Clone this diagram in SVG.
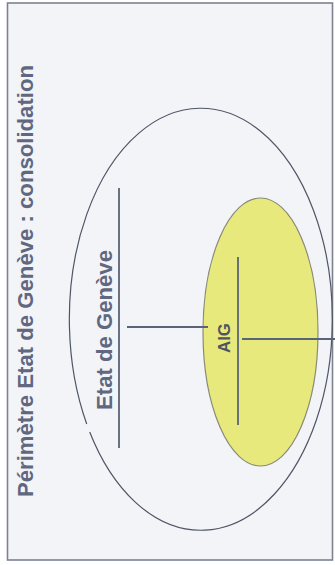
<svg xmlns="http://www.w3.org/2000/svg" width="335" height="565" viewBox="0 0 335 565">
<style>
.lbl{font-family:"Liberation Sans",Arial,sans-serif;font-weight:bold;fill:#5f6880}
.ln{stroke:#5a6478;stroke-width:1.8;fill:none}
</style>
<rect x="0" y="0" width="335" height="565" fill="#ffffff"/>
<g id="frame">
<rect x="7.5" y="3" width="325" height="557" fill="#f3f4f7" stroke="#7c8294" stroke-width="1.6"/>
</g>
<g id="title">
<text class="lbl" x="33" y="497" font-size="22" transform="rotate(-90 33 497)" textLength="432" lengthAdjust="spacingAndGlyphs">Périmètre Etat de Genève : consolidation</text>
</g>
<g id="etat">
<path d="M 86.7 424 A 131.5 211 0 1 1 89.7 432" fill="none" stroke="#4e5566" stroke-width="1.2"/>
<text class="lbl" x="112" y="410" font-size="22" transform="rotate(-90 112 410)" textLength="160" lengthAdjust="spacingAndGlyphs">Etat de Genève</text>
</g>
<g id="aig">
<ellipse cx="260.5" cy="332" rx="57.5" ry="134" fill="#e7e97c" stroke="#8a8a78" stroke-width="1.2"/>
<text x="230" y="353" font-size="16" font-family="Liberation Sans, Arial, sans-serif" font-weight="bold" fill="#4f5560" transform="rotate(-90 230 353)" textLength="30" lengthAdjust="spacingAndGlyphs">AIG</text>
</g>
<g id="connectors">
<line class="ln" x1="119" y1="188" x2="119" y2="448"/>
<line class="ln" x1="127" y1="327" x2="208" y2="327"/>
<line class="ln" x1="238" y1="257" x2="238" y2="425"/>
<line class="ln" x1="242" y1="339" x2="335" y2="339"/>
</g>
</svg>
